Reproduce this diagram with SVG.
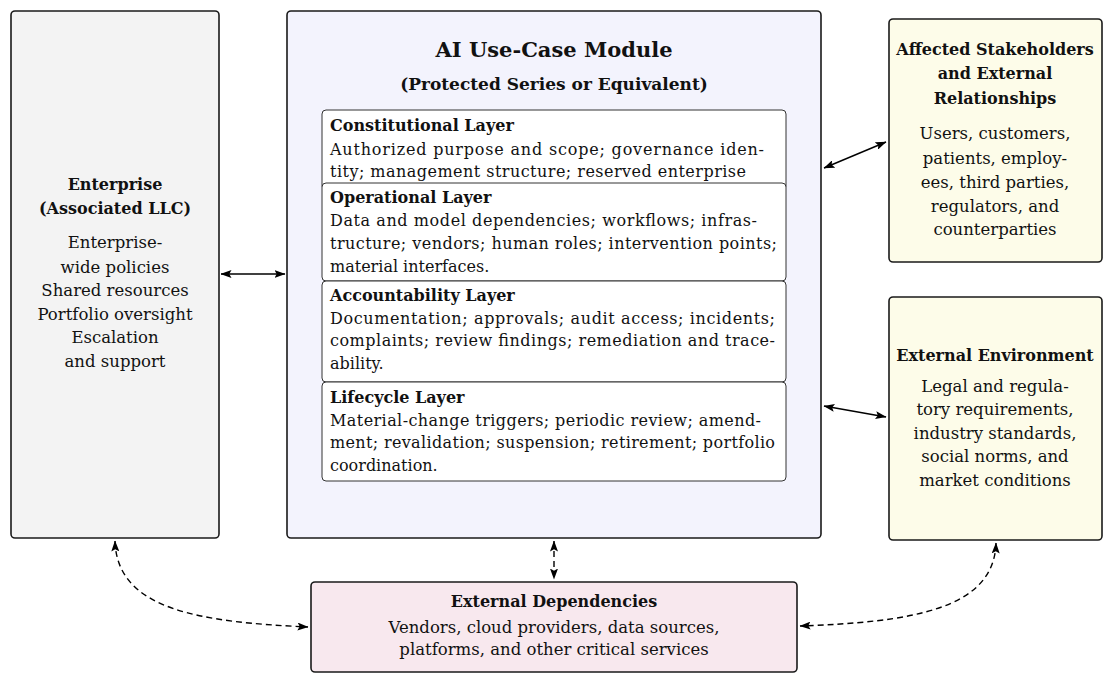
<svg xmlns="http://www.w3.org/2000/svg" width="1113" height="682" viewBox="0 0 1113 682">
<defs>
<marker id="ah" viewBox="0 0 11 8" refX="10.5" refY="4" markerWidth="11" markerHeight="8" markerUnits="userSpaceOnUse" orient="auto-start-reverse">
<path d="M0,0 L11,4 L0,8 L2.2,4 Z" fill="#000"/>
</marker>
<style>
.box{stroke:#1a1a1a;stroke-width:1.6}
.layer{fill:#fff;stroke:#333;stroke-width:1}
text{font-family:"DejaVu Serif","Liberation Serif",serif;fill:#111}
.t{font-size:16px;font-weight:bold;text-anchor:middle}
.b{font-size:16.5px;text-anchor:middle}
.h{font-size:16px;font-weight:bold}
.l{font-size:16px}
.conn{fill:none;stroke:#000;stroke-width:1.4}
.dash{stroke-dasharray:6,4}
</style>
</defs>
<g id="enterprise">
<rect class="box" x="11" y="11" width="208" height="527" rx="4" fill="#f3f3f3"/>
<text class="t" x="115" y="190">Enterprise</text>
<text class="t" x="115" y="214">(Associated LLC)</text>
<text class="b" x="115" y="248">Enterprise-</text>
<text class="b" x="115" y="273">wide policies</text>
<text class="b" x="115" y="296">Shared resources</text>
<text class="b" x="115" y="320">Portfolio oversight</text>
<text class="b" x="115" y="343">Escalation</text>
<text class="b" x="115" y="367">and support</text>
</g>
<g id="module">
<rect class="box" x="287" y="11" width="534" height="527" rx="4" fill="#f3f3fd"/>
<text x="554" y="57" style="font-size:21px;font-weight:bold;text-anchor:middle">AI Use-Case Module</text>
<text x="554" y="90" style="font-size:17px;font-weight:bold;text-anchor:middle">(Protected Series or Equivalent)</text>
</g>
<g id="constitutional">
<rect class="layer" x="322" y="110" width="464" height="80" rx="4"/>
<text class="h" x="330" y="131">Constitutional Layer</text>
<text class="l" x="330" y="155" textLength="434" lengthAdjust="spacing">Authorized purpose and scope; governance iden-</text>
<text class="l" x="330" y="177" textLength="416" lengthAdjust="spacing">tity; management structure; reserved enterprise</text>
</g>
<g id="operational">
<rect class="layer" x="322" y="183" width="464" height="98" rx="4"/>
<text class="h" x="330" y="203">Operational Layer</text>
<text class="l" x="330" y="226" textLength="427" lengthAdjust="spacing">Data and model dependencies; workflows; infras-</text>
<text class="l" x="330" y="249" textLength="447" lengthAdjust="spacing">tructure; vendors; human roles; intervention points;</text>
<text class="l" x="330" y="272">material interfaces.</text>
</g>
<g id="accountability">
<rect class="layer" x="322" y="281" width="464" height="101" rx="4"/>
<text class="h" x="330" y="301">Accountability Layer</text>
<text class="l" x="330" y="324" textLength="445" lengthAdjust="spacing">Documentation; approvals; audit access; incidents;</text>
<text class="l" x="330" y="346" textLength="445" lengthAdjust="spacing">complaints; review findings; remediation and trace-</text>
<text class="l" x="330" y="369">ability.</text>
</g>
<g id="lifecycle">
<rect class="layer" x="322" y="382" width="464" height="99" rx="4"/>
<text class="h" x="330" y="403">Lifecycle Layer</text>
<text class="l" x="330" y="426" textLength="431" lengthAdjust="spacing">Material-change triggers; periodic review; amend-</text>
<text class="l" x="330" y="448" textLength="445" lengthAdjust="spacing">ment; revalidation; suspension; retirement; portfolio</text>
<text class="l" x="330" y="471">coordination.</text>
</g>
<g id="stakeholders">
<rect class="box" x="889" y="19" width="213" height="243" rx="4" fill="#fdfce9"/>
<text class="t" x="995" y="55">Affected Stakeholders</text>
<text class="t" x="995" y="79">and External</text>
<text class="t" x="995" y="104">Relationships</text>
<text class="b" x="995" y="139">Users, customers,</text>
<text class="b" x="995" y="164">patients, employ-</text>
<text class="b" x="995" y="188">ees, third parties,</text>
<text class="b" x="995" y="212">regulators, and</text>
<text class="b" x="995" y="235">counterparties</text>
</g>
<g id="environment">
<rect class="box" x="889" y="297" width="213" height="243" rx="4" fill="#fdfce9"/>
<text class="t" x="995" y="361">External Environment</text>
<text class="b" x="995" y="392">Legal and regula-</text>
<text class="b" x="995" y="415">tory requirements,</text>
<text class="b" x="995" y="439">industry standards,</text>
<text class="b" x="995" y="462">social norms, and</text>
<text class="b" x="995" y="486">market conditions</text>
</g>
<g id="dependencies">
<rect class="box" x="311" y="582" width="486" height="90" rx="4" fill="#f8e8ee"/>
<text class="t" x="554" y="607">External Dependencies</text>
<text class="b" x="554" y="633">Vendors, cloud providers, data sources,</text>
<text class="b" x="554" y="655">platforms, and other critical services</text>
</g>
<g id="connectors">
<path class="conn" d="M221,274 L285,274" marker-start="url(#ah)" marker-end="url(#ah)"/>
<path class="conn" d="M824,168 L886,142" marker-start="url(#ah)" marker-end="url(#ah)"/>
<path class="conn" d="M824,406 L886,417" marker-start="url(#ah)" marker-end="url(#ah)"/>
<path class="conn dash" d="M554,541 L554,579" marker-start="url(#ah)" marker-end="url(#ah)"/>
<path class="conn dash" d="M115,541 C117,610 200,622 308,627" marker-start="url(#ah)" marker-end="url(#ah)"/>
<path class="conn dash" d="M996,543 C994,610 910,622 800,626" marker-start="url(#ah)" marker-end="url(#ah)"/>
</g>
</svg>
